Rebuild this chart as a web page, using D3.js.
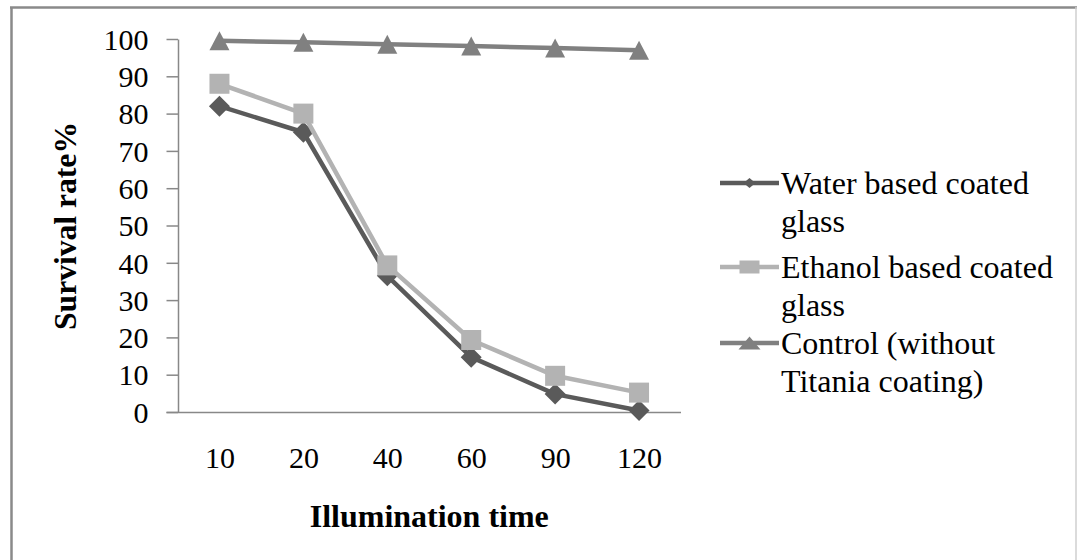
<!DOCTYPE html>
<html>
<head>
<meta charset="utf-8">
<script src="https://cdn.jsdelivr.net/npm/d3@7"></script>
<style>
  html, body { margin: 0; padding: 0; background: #fff; }
  svg { display: block; }
  text { font-family: "Times New Roman", "Liberation Serif", serif; fill: #000; }
</style>
</head>
<body>
<svg id="chart" width="1077" height="560"></svg>
<script>
// Illumination time categories (x axis)
const times = ["10", "20", "40", "60", "90", "120"];
// Survival rate (%) for each coating
const waterBased   = [82, 75, 36.5, 14.7, 4.8, 0.4];
const ethanolBased = [88, 80, 39.3, 19.3, 9.7, 5.2];
const controlGlass = [99.5, 99.1, 98.6, 98.1, 97.6, 97.0];
const yTicks = [0, 10, 20, 30, 40, 50, 60, 70, 80, 90, 100];
const seriesNames = [
  ["Water based coated", "glass"],
  ["Ethanol based coated", "glass"],
  ["Control (without", "Titania coating)"]
];

const serif = "'Times New Roman', 'Liberation Serif', serif";

const series = [
  { values: waterBased,   color: "#5a5a5a", marker: "diamond", label: seriesNames[0] },
  { values: ethanolBased, color: "#b3b3b3", marker: "square",  label: seriesNames[1] },
  { values: controlGlass, color: "#808080", marker: "triangle", label: seriesNames[2] }
];

const svg = d3.select("#chart");

// chart frame
svg.append("line").attr("x1", 11.5).attr("x2", 11.5).attr("y1", 7).attr("y2", 560)
  .attr("stroke", "#8a8a8a").attr("stroke-width", 2.5);
svg.append("line").attr("x1", 10).attr("x2", 1077).attr("y1", 7.5).attr("y2", 7.5)
  .attr("stroke", "#8a8a8a").attr("stroke-width", 2.5);
svg.append("line").attr("x1", 1076).attr("x2", 1076).attr("y1", 7).attr("y2", 560)
  .attr("stroke", "#cfcfcf").attr("stroke-width", 1.5);

const x = d3.scalePoint().domain(times).range([177.5, 681]).padding(0.5);
const y = d3.scaleLinear().domain([0, 100]).range([412, 39]);

// y axis
const yAxis = svg.append("g").attr("transform", "translate(178,0)")
  .attr("font-family", serif)
  .call(d3.axisLeft(y).tickValues(yTicks).tickSize(11.5).tickSizeOuter(0).tickPadding(18));
yAxis.attr("font-family", serif);
yAxis.select(".domain").attr("stroke", "#888").attr("stroke-width", 1.5);
yAxis.selectAll(".tick line").attr("stroke", "#888").attr("stroke-width", 1.5);
yAxis.selectAll(".tick text")
  .style("font-family", serif)
  .style("font-size", "30px").attr("fill", "#000").attr("dy", "0.34em");

// x axis
const xAxis = svg.append("g").attr("transform", "translate(0,412)")
  .call(d3.axisBottom(x).tickSize(0).tickSizeOuter(0));
xAxis.attr("font-family", serif);
xAxis.select(".domain").attr("stroke", "#888").attr("stroke-width", 1.5)
  .attr("d", "M166.5,0.5H681");
xAxis.selectAll(".tick text")
  .style("font-family", serif)
  .style("font-size", "30px").attr("fill", "#000")
  .attr("y", 56).attr("dy", 0);

// axis titles
svg.append("text")
  .attr("x", (177.5 + 681) / 2).attr("y", 527)
  .attr("text-anchor", "middle")
  .style("font-family", serif)
  .style("font-size", "32px").style("font-weight", "bold")
  .text("Illumination time");

svg.append("text")
  .attr("transform", "translate(76,226) rotate(-90)")
  .attr("text-anchor", "middle")
  .attr("textLength", 208).attr("lengthAdjust", "spacingAndGlyphs")
  .style("font-family", serif)
  .style("font-size", "31px").style("font-weight", "bold")
  .text("Survival rate%");

// marker shapes
function markerPath(type, w, h) {
  const hw = w / 2, hh = h / 2;
  if (type === "diamond") return `M0,${-hh}L${hw},0L0,${hh}L${-hw},0Z`;
  if (type === "square") return `M${-hw},${-hh}H${hw}V${hh}H${-hw}Z`;
  return `M0,${-hh}L${hw},${hh}H${-hw}Z`;
}
const markerSize = { diamond: [21, 21], square: [20, 20], triangle: [20, 19] };
const legendMarkerSize = { diamond: [12, 10], square: [20, 13], triangle: [22, 13] };

const line = d3.line().x((d, i) => x(times[i])).y(d => y(d));

series.forEach(s => {
  const g = svg.append("g");
  g.append("path").datum(s.values)
    .attr("d", line).attr("fill", "none")
    .attr("stroke", s.color).attr("stroke-width", 4.5).attr("stroke-linejoin", "round");
  g.selectAll("path.mk").data(s.values).join("path").attr("class", "mk")
    .attr("transform", (d, i) => `translate(${x(times[i])},${y(d)})`)
    .attr("d", markerPath(s.marker, ...markerSize[s.marker]))
    .attr("fill", s.color);
});

// legend
const legendRows = [183, 267, 343];
series.forEach((s, i) => {
  const cy = legendRows[i];
  const g = svg.append("g");
  g.append("line").attr("x1", 720).attr("x2", 779).attr("y1", cy).attr("y2", cy)
    .attr("stroke", s.color).attr("stroke-width", 4.5);
  g.append("path").attr("transform", `translate(749.5,${cy})`)
    .attr("d", markerPath(s.marker, ...legendMarkerSize[s.marker]))
    .attr("fill", s.color);
  s.label.forEach((t, j) => {
    g.append("text").attr("x", 781).attr("y", cy + 10.5 + j * 38.5)
      .style("font-family", serif)
      .style("font-size", "32px").text(t);
  });
});
</script>
</body>
</html>
